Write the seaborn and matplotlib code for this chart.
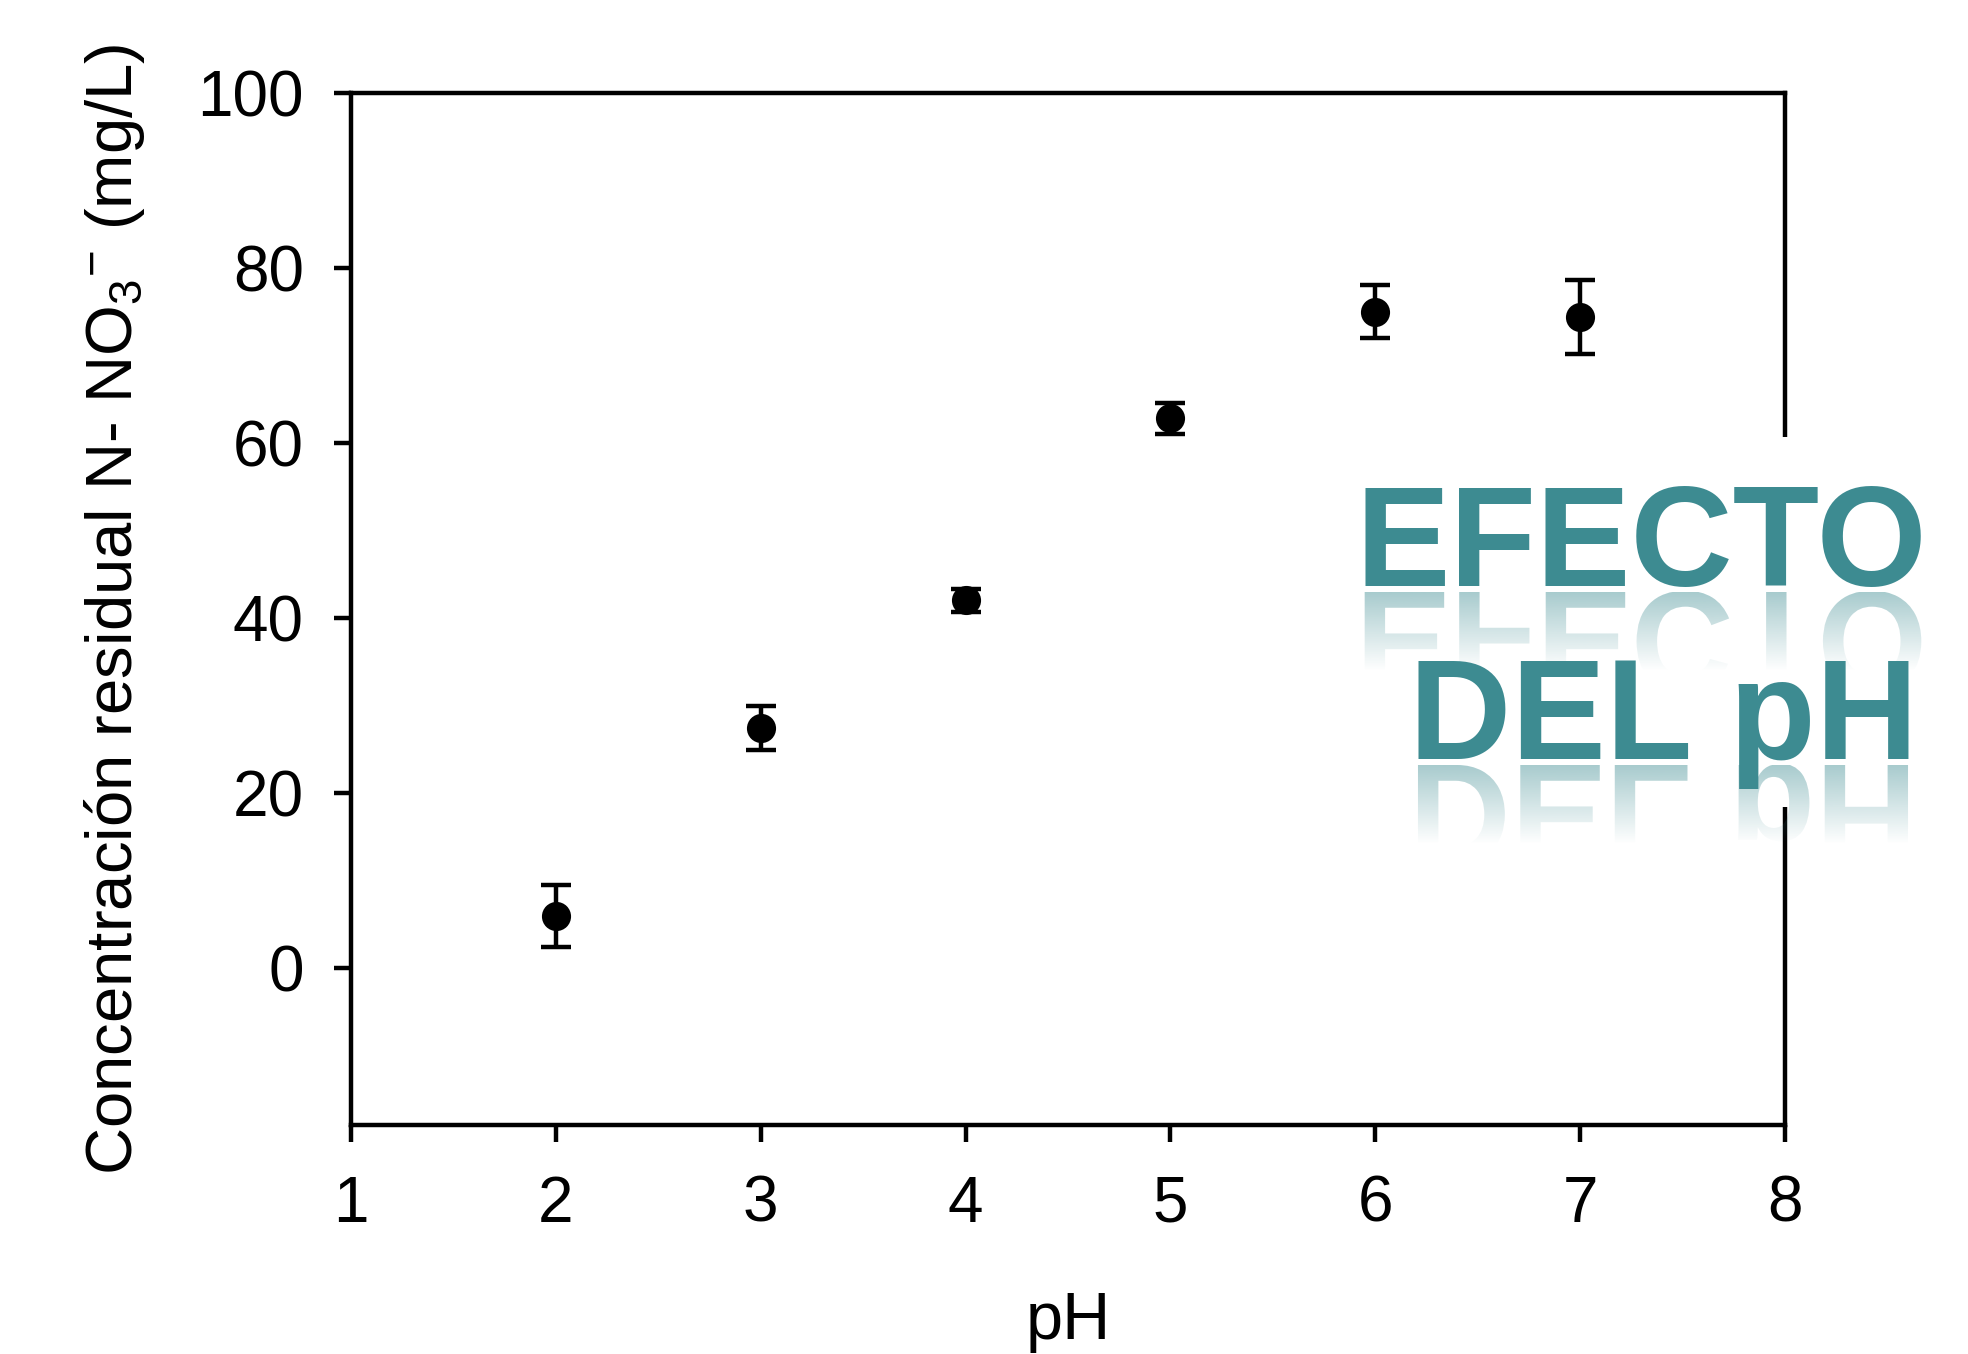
import numpy as np
import pandas as pd
import matplotlib
matplotlib.use("Agg")
import matplotlib.pyplot as plt
import seaborn as sns
from matplotlib.textpath import TextPath
from matplotlib.font_manager import FontProperties
from matplotlib.patches import PathPatch, Rectangle
from matplotlib.transforms import Affine2D

# data
ph = [2, 3, 4, 5, 6, 7]
conc = [5.9, 27.4, 42.0, 62.8, 75.0, 74.4]
err = [3.5, 2.5, 1.3, 1.8, 3.0, 4.2]
x_ticks = [1, 2, 3, 4, 5, 6, 7, 8]
y_ticks = [0, 20, 40, 60, 80, 100]
banner_lines = ["EFECTO", "DEL pH"]

df = pd.DataFrame({"pH": ph, "conc": conc, "err": err})

sns.set_style("ticks")
plt.rcParams["font.family"] = ["Liberation Sans", "DejaVu Sans"]
plt.rcParams["mathtext.fontset"] = "custom"
plt.rcParams["mathtext.rm"] = "Liberation Sans"
plt.rcParams["mathtext.it"] = "Liberation Sans:italic"
for k in ["text.color", "axes.labelcolor", "xtick.color", "ytick.color", "axes.edgecolor"]:
    plt.rcParams[k] = "black"

W, H = 1968, 1354
fig = plt.figure(figsize=(W / 100, H / 100), dpi=100)
fig.suppressComposite = True
ax = fig.add_axes([351 / W, 1 - 1125 / H, (1785 - 351) / W, (1125 - 93) / H])

ax.errorbar(df["pH"], df["conc"], yerr=df["err"], fmt="none", ecolor="black",
            elinewidth=3.2, capsize=11, capthick=3.2, zorder=2)
sns.scatterplot(data=df, x="pH", y="conc", color="black", s=440,
                edgecolor="black", linewidth=0, zorder=3, ax=ax)

ax.set_xlim(1, 8)
ax.set_ylim(-18, 100)
ax.set_xticks(x_ticks)
ax.set_yticks(y_ticks)
ax.tick_params(axis="both", labelsize=46, width=3.2, length=12, direction="out")
ax.tick_params(axis="x", pad=24)
ax.tick_params(axis="y", pad=22)
for s in ax.spines.values():
    s.set_linewidth(3.2)
ax.set_xlabel("pH", fontsize=48, labelpad=40)
ax.set_ylabel(r"Concentración residual N- NO$_3$$^{-}$ (mg/L)", fontsize=47, labelpad=36)

# banner overlay (pixel coordinates, y up)
ov = fig.add_axes([0, 0, 1, 1], zorder=5)
ov.set_xlim(0, W)
ov.set_ylim(0, H)
ov.axis("off")
ov.add_patch(Rectangle((1345, H - 807), 623, 370, facecolor="white", edgecolor="none"))

teal = "#3d8b91"
fsize = 102
fp = FontProperties(family="Liberation Sans", weight="bold")

rgba = np.zeros((256, 1, 4))
rgba[..., :3] = matplotlib.colors.to_rgb(teal)
rgba[:, 0, 3] = np.linspace(0.45, 0.0, 256)
centres = [(1643, H - 586), (1663, H - 759)]
for txt, (xc, yb) in zip(banner_lines, centres):
    tp = TextPath((0, 0), txt, size=fsize * 100 / 72, prop=fp)
    ext = tp.get_extents()
    x0 = xc - (ext.x0 + ext.x1) / 2
    ov.text(x0, yb, txt, fontproperties=fp, fontsize=fsize, color=teal,
            ha="left", va="baseline", zorder=4)
    refl = Affine2D().scale(1, -1).translate(x0, yb - 6).transform_path(tp)
    clip = PathPatch(refl, transform=ov.transData, facecolor="none", edgecolor="none")
    ov.add_patch(clip)
    im = ov.imshow(rgba, extent=(x0 - 20, x0 + 650, yb - 85, yb - 6), origin="upper",
                   aspect="auto", interpolation="bilinear", zorder=2)
    im.set_clip_path(clip)

ov.set_xlim(0, W)
ov.set_ylim(0, H)
fig.savefig("out.png", dpi=100)
